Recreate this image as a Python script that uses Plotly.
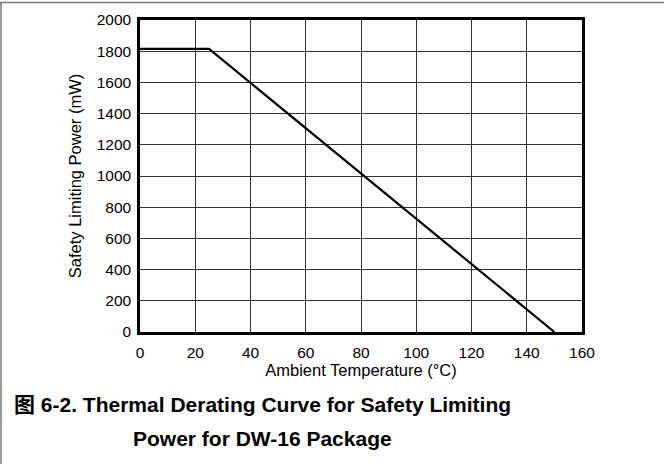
import plotly.graph_objects as go

temperature_c = [0, 25, 150]
power_mw = [1815, 1815, 0]
x_ticks = [0, 20, 40, 60, 80, 100, 120, 140, 160]
y_ticks = [0, 200, 400, 600, 800, 1000, 1200, 1400, 1600, 1800, 2000]

W, H = 664, 464
L, R, T, B = 140, 82, 20, 132
pw, ph = W - L - R, H - T - B

def px_x(p):
    return (p - L) / pw

def px_y(p):
    return (H - B - p) / ph

font = "Liberation Sans, Arial, Noto Sans CJK SC, sans-serif"

fig = go.Figure()
fig.add_trace(go.Scatter(x=temperature_c, y=power_mw, mode="lines",
                         line=dict(color="black", width=2.2), showlegend=False,
                         hoverinfo="skip"))

fig.update_layout(
    width=W, height=H,
    margin=dict(l=L, r=R, t=T, b=B),
    paper_bgcolor="white", plot_bgcolor="white",
    font=dict(family=font, color="black", size=15.5),
    xaxis=dict(range=[0, 160], tickvals=x_ticks, showgrid=True, gridcolor="#333",
               gridwidth=1, zeroline=False, showline=True, linecolor="black",
               linewidth=2.5, mirror=True, ticks="", ticklen=0,
               tickfont=dict(size=15.5), ticklabelstandoff=5,
               title=dict(text="Ambient Temperature (°C)", font=dict(size=16.5), standoff=0)),
    yaxis=dict(range=[0, 2000], tickvals=y_ticks, showgrid=True, gridcolor="#333",
               gridwidth=1, zeroline=False, showline=True, linecolor="black",
               linewidth=2.5, mirror=True, ticks="", ticklen=0,
               tickfont=dict(size=15.5), ticklabelstandoff=3,
               title=dict(text="Safety Limiting Power (mW)", font=dict(size=16.5), standoff=11)),
    shapes=[
        dict(type="line", xref="paper", yref="paper", x0=px_x(0), x1=px_x(W),
             y0=px_y(2.5), y1=px_y(2.5), line=dict(color="#777", width=1.5)),
        dict(type="line", xref="paper", yref="paper", x0=px_x(1), x1=px_x(1),
             y0=px_y(2.5), y1=px_y(H), line=dict(color="#777", width=1.5)),
    ],
    annotations=[
        dict(text="<b>图 6-2. Thermal Derating Curve for Safety Limiting</b>",
             xref="paper", yref="paper", x=px_x(262), y=px_y(404),
             xanchor="center", yanchor="middle", showarrow=False,
             font=dict(size=21, family=font)),
        dict(text="<b>Power for DW-16 Package</b>",
             xref="paper", yref="paper", x=px_x(262), y=px_y(438),
             xanchor="center", yanchor="middle", showarrow=False,
             font=dict(size=21, family=font)),
    ],
)

fig.write_html("out.html", config={"displayModeBar": False},
               post_script="document.body.style.margin='0';")
